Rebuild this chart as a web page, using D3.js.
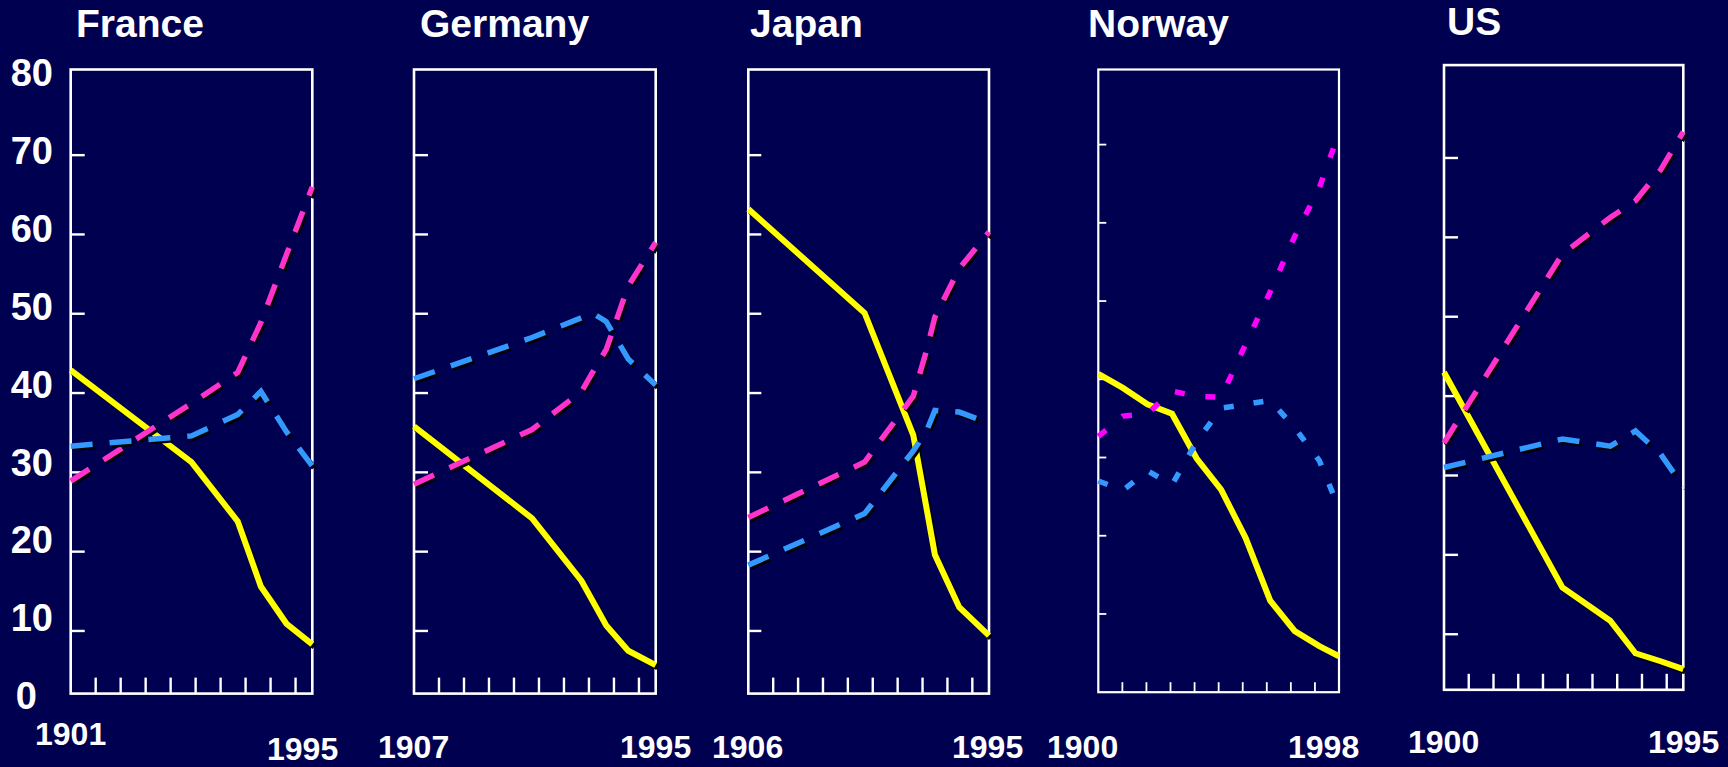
<!DOCTYPE html>
<html>
<head>
<meta charset="utf-8">
<script src="https://cdn.jsdelivr.net/npm/d3@7"></script>
<style>
  html, body { margin: 0; padding: 0; background: #000050; }
  svg { display: block; }
  text { font-family: "Liberation Sans", Arial, Helvetica, sans-serif; font-weight: bold; fill: #ffffff; }
</style>
</head>
<body>
<svg id="chart" width="1728" height="767"></svg>
<script>
// ---------------- DATA ----------------
const countries = ["France", "Germany", "Japan", "Norway", "US"];
const seriesNames = ["Agriculture", "Industry", "Services"];
const yTickValues = [10, 20, 30, 40, 50, 60, 70];
const yLabelValues = [80, 70, 60, 50, 40, 30, 20, 10, 0];

const franceYears = [1901, 1948, 1966, 1975, 1985, 1995];
const franceAgri  = [42.9, 31.3, 23.8, 15.6, 10.9, 8.3];
const franceInd   = [33.3, 34.6, 37.3, 40.2, 35.1, 30.8];
const franceServ  = [28.9, 38.7, 42.6, 48.9, 57.5, 66.0];

const germanyYears = [1907, 1950, 1968, 1972, 1977, 1985, 1995];
const germanyAgri  = [35.8, 24.2, 16.3, 13.8, 10.7, 7.5, 5.7];
const germanyInd   = [41.8, 47.0, 49.5, 50.1, 49.0, 44.3, 41.0];
const germanyServ  = [28.5, 35.4, 40.2, 42.6, 45.5, 53.5, 59.0];

const japanYears = [1906, 1949, 1967, 1972, 1975, 1984, 1995];
const japanAgri  = [63.2, 50.1, 34.7, 25.3, 19.6, 13.0, 9.4];
const japanInd   = [18.3, 24.8, 32.7, 35.3, 37.8, 37.6, 36.2];
const japanServ  = [24.3, 31.3, 39.6, 45.5, 49.6, 55.7, 60.3];

const norwayYears = [1900, 1910, 1920, 1930, 1940, 1950, 1960, 1970, 1980, 1990, 1998];
const norwayAgri  = [40.7, 38.9, 36.8, 35.6, 29.9, 25.9, 19.7, 11.7, 7.8, 5.9, 4.6];
const norwayInd   = [27.0, 25.8, 28.3, 26.5, 32.0, 36.3, 36.8, 37.3, 33.8, 29.6, 23.5];
const norwayServ  = [32.7, 35.3, 35.6, 38.5, 37.8, 37.7, 44.5, 51.2, 58.3, 64.5, 71.5];

const usYears = [1900, 1947, 1966, 1976, 1986, 1995];
const usAgri  = [43.0, 15.9, 11.7, 7.6, 6.6, 5.6];
const usInd   = [31.0, 34.6, 33.7, 35.6, 32.7, 28.6];
const usServ  = [34.1, 57.9, 62.5, 64.6, 68.5, 73.3];

const xFirstLabels = ["1901", "1907", "1906", "1900", "1900"];
const xLastLabels  = ["1995", "1995", "1995", "1998", "1995"];

// ---------------- LAYOUT / STYLE ----------------
const layout = [
  {L: 70.7,  R: 312.3, T: 69.5, B: 693.6, yLo: 2.1, yHi: 80.8, tickDiv: 9.67, ytick: 14, xtick: 16, boxW: 2.6, tx: 76,   ty: 36.7, l1: [35, 745],   l2: [267, 760], thin: false},
  {L: 414,   R: 655.7, T: 69.5, B: 693.6, yLo: 2.1, yHi: 80.8, tickDiv: 9.67, ytick: 14, xtick: 16, boxW: 2.6, tx: 420,  ty: 36.7, l1: [378, 758],  l2: [620, 758], thin: false},
  {L: 748.3, R: 989,   T: 69.5, B: 693.6, yLo: 2.1, yHi: 80.8, tickDiv: 9.67, ytick: 13, xtick: 16, boxW: 2.6, tx: 750,  ty: 36.7, l1: [712, 758],  l2: [952, 758], thin: false},
  {L: 1098.3,R: 1339,  T: 69.5, B: 692.2, yLo: 0,   yHi: 79.6, tickDiv: 10,   ytick: 8,  xtick: 10, boxW: 2.2, tx: 1088, ty: 36.7, l1: [1047, 758], l2: [1288, 758], thin: true},
  {L: 1444,  R: 1683.3,T: 65.1, B: 689.8, yLo: 3.0, yHi: 81.7, tickDiv: 9.67, ytick: 14, xtick: 16, boxW: 2.6, tx: 1447, ty: 34.5, l1: [1408, 753], l2: [1648, 753], thin: false}
];

const yearsArr = [franceYears, germanyYears, japanYears, norwayYears, usYears];
const agriArr  = [franceAgri, germanyAgri, japanAgri, norwayAgri, usAgri];
const indArr   = [franceInd, germanyInd, japanInd, norwayInd, usInd];
const servArr  = [franceServ, germanyServ, japanServ, norwayServ, usServ];

const colors = {Agriculture: "#ffff00", Industry: "#3399ff", Services: "#ff33cc"};
const norwayColors = {Agriculture: "#ffff00", Industry: "#3399ff", Services: "#ff00ff"};

const svg = d3.select("#chart");
svg.append("rect").attr("width", 1728).attr("height", 767).attr("fill", "#000050");

countries.forEach((name, i) => {
  const lay = layout[i];
  const years = yearsArr[i];
  const x = d3.scaleLinear()
    .domain([+xFirstLabels[i], +xLastLabels[i]])
    .range([lay.L, lay.R]);
  const y = d3.scaleLinear().domain([lay.yLo, lay.yHi]).range([lay.B, lay.T]);
  const tickX = d3.scaleLinear().domain([0, lay.tickDiv]).range([lay.L, lay.R]);

  const g = svg.append("g").attr("class", "panel");

  // title
  g.append("text").attr("x", lay.tx).attr("y", lay.ty)
    .attr("font-size", 39).text(name);

  // box
  g.append("rect")
    .attr("x", lay.L).attr("y", lay.T)
    .attr("width", lay.R - lay.L).attr("height", lay.B - lay.T)
    .attr("fill", "none").attr("stroke", "#ffffff").attr("stroke-width", lay.boxW);

  // y ticks
  g.selectAll("line.yt").data(yTickValues).enter().append("line")
    .attr("x1", lay.L).attr("x2", lay.L + lay.ytick)
    .attr("y1", d => y(d)).attr("y2", d => y(d))
    .attr("stroke", "#ffffff").attr("stroke-width", lay.thin ? 1.8 : 2.4);

  // x ticks
  g.selectAll("line.xt").data(d3.range(1, 10)).enter().append("line")
    .attr("x1", d => tickX(d)).attr("x2", d => tickX(d))
    .attr("y1", lay.B).attr("y2", lay.B - lay.xtick)
    .attr("stroke", "#ffffff").attr("stroke-width", lay.thin ? 1.8 : 2.4);

  // x labels
  g.append("text").attr("x", lay.l1[0]).attr("y", lay.l1[1]).attr("font-size", 32).text(xFirstLabels[i]);
  g.append("text").attr("x", lay.l2[0]).attr("y", lay.l2[1]).attr("font-size", 32).text(xLastLabels[i]);

  // series
  const series = [
    {key: "Agriculture", vals: agriArr[i]},
    {key: "Services", vals: servArr[i]},
    {key: "Industry", vals: indArr[i]}
  ];
  const line = d3.line().x(d => x(d[0])).y(d => y(d[1]));

  series.forEach(s => {
    const pts = years.map((yr, k) => [yr, s.vals[k]]);
    let dash = null;
    if (s.key !== "Agriculture") dash = lay.thin ? (s.key === "Services" ? "10 21" : "10 20") : "22 17";
    const w = s.key === "Agriculture" ? 6 : 5.5;
    if (!lay.thin) {
      g.append("path").attr("d", line(pts))
        .attr("fill", "none").attr("stroke", "#000000").attr("stroke-width", w)
        .attr("stroke-dasharray", dash)
        .attr("transform", "translate(2,2.2)");
    }
    g.append("path").attr("d", line(pts))
      .attr("fill", "none")
      .attr("stroke", (lay.thin ? norwayColors : colors)[s.key])
      .attr("stroke-width", w)
      .attr("stroke-linejoin", "miter")
      .attr("stroke-dasharray", dash);
  });
});

// y-axis value labels on left
const yLab = d3.scaleLinear().domain([0, 80]).range([695.6, 72.2]);
svg.selectAll("text.ylab").data(yLabelValues).enter().append("text")
  .attr("class", "ylab")
  .attr("x", d => d === 0 ? 37 : 53)
  .attr("y", d => yLab(d))
  .attr("dy", "0.36em")
  .attr("text-anchor", "end")
  .attr("font-size", 38)
  .text(d => d);
</script>
</body>
</html>
